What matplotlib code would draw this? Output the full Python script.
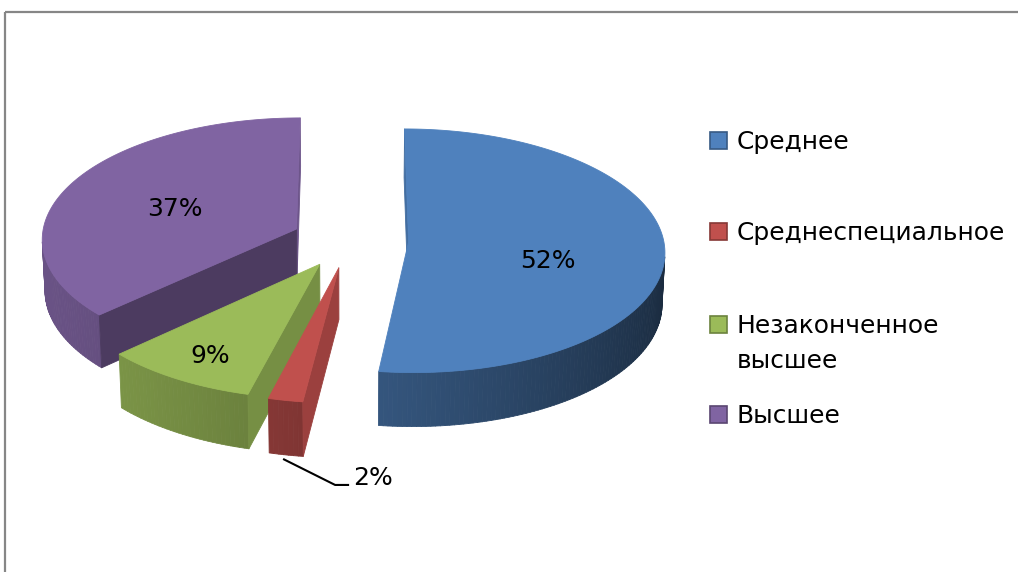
"""
Exploded 3D pie: education level shares (Excel-style recreation).
"""

import numpy as np
import matplotlib.pyplot as plt
from matplotlib.patches import Polygon, Rectangle
import matplotlib.colors as mcolors


# Data
categories = ['Среднее', 'Среднеспециальное', 'Незаконченное\nвысшее', 'Высшее']
shares = [52, 2, 9, 37]
pct_labels = ['52%', '2%', '9%', '37%']

# Style
COLORS = ['#4F81BD', '#C0504D', '#9BBB59', '#8064A2']
# label placement inside each slice: (radius, angle shift in degrees);
# None -> label outside with a leader line
LABEL_POS = [(0.56, -13), None, (0.80, 1), (0.52, 4)]
FONT = 18
LEGEND_FONT = 17.9

# View settings (pixel space, y grows downwards)
CX, CY = 350, 240
SCALE = 255
ELEV = np.radians(28.3)
DIST = 11.9
THICK = 0.23
EXPLODE = 0.23


def project(X, Y, Z):
    """Perspective projection of world points onto the canvas."""
    X, Y, Z = np.broadcast_arrays(np.asarray(X, float), np.asarray(Y, float),
                                  np.asarray(Z, float))
    vv = Y * np.sin(ELEV) + Z * np.cos(ELEV)
    w = Y * np.cos(ELEV) - Z * np.sin(ELEV)
    s = DIST / (DIST + w)
    return np.column_stack([CX + SCALE * X * s, CY - SCALE * vv * s])


def signed_area(pts):
    x, y = pts[:, 0], pts[:, 1]
    return 0.5 * np.sum(x * np.roll(y, -1) - np.roll(x, -1) * y)


def shade(color, f):
    rgb = np.array(mcolors.to_rgb(color)) * f
    return tuple(np.clip(rgb, 0, 1))


def draw_face(ax, pts, color):
    if signed_area(pts) > 0:
        ax.add_patch(Polygon(pts, closed=True, facecolor=color, edgecolor=color,
                             linewidth=0.6, joinstyle='round'))


fig = plt.figure(figsize=(10.18, 5.72), dpi=100)
ax = fig.add_axes([0, 0, 1, 1])
ax.set_xlim(0, 1018)
ax.set_ylim(572, 0)
ax.axis('off')

# chart area border (only top and left visible)
ax.add_patch(Rectangle((5, 12), 1200, 800, fill=False, edgecolor='#868686',
                       linewidth=1.6))

# slice angles: start at 12 o'clock, clockwise
total = float(sum(shares))
cum = np.concatenate([[0], np.cumsum(shares)]) / total * 360.0
slices = []
for i in range(len(shares)):
    t1 = np.radians(90 - cum[i + 1])
    t2 = np.radians(90 - cum[i])
    tm = 0.5 * (t1 + t2)
    ox, oy = EXPLODE * np.cos(tm), EXPLODE * np.sin(tm)
    slices.append((i, t1, t2, tm, ox, oy))

# far slices first
order = sorted(slices, key=lambda s: -s[5])
anchors = {}
for i, t1, t2, tm, ox, oy in order:
    base = COLORS[i]
    n = max(int(np.degrees(t2 - t1)), 2)
    ts = np.linspace(t1, t2, n + 1)
    rx, ry = ox + np.cos(ts), oy + np.sin(ts)

    # outer wall
    for k in range(n):
        tmid = 0.5 * (ts[k] + ts[k + 1])
        f = 0.57 + 0.25 * np.cos(tmid - np.radians(195))
        quad = project([rx[k], rx[k + 1], rx[k + 1], rx[k]],
                       [ry[k], ry[k + 1], ry[k + 1], ry[k]],
                       [0, 0, -THICK, -THICK])
        draw_face(ax, quad, shade(base, f))

    # radial cut faces
    f1 = 0.85 + 0.35 * np.sin(t1 - np.pi / 2)
    face1 = project([ox, rx[0], rx[0], ox], [oy, ry[0], ry[0], oy],
                    [0, 0, -THICK, -THICK])
    draw_face(ax, face1, shade(base, f1))
    f2 = 0.85 + 0.35 * np.sin(t2 + np.pi / 2)
    face2 = project([rx[-1], ox, ox, rx[-1]], [ry[-1], oy, oy, ry[-1]],
                    [0, 0, -THICK, -THICK])
    draw_face(ax, face2, shade(base, f2))

    # top face
    top = project(np.concatenate([[ox], rx]), np.concatenate([[oy], ry]), 0)
    ax.add_patch(Polygon(top, closed=True, facecolor=base, edgecolor=base,
                         linewidth=0.6))

    anchors[i] = (tm, ox, oy)

# percentage labels
for i, lab in enumerate(pct_labels):
    tm, ox, oy = anchors[i]
    if LABEL_POS[i] is not None:
        r, dt = LABEL_POS[i]
        ang = tm + np.radians(dt)
        px, py = project(ox + r * np.cos(ang), oy + r * np.sin(ang), 0)[0]
        ax.text(px, py, lab, ha='center', va='center', fontsize=FONT,
                color='black')
    else:
        px, py = project(ox + np.cos(tm), oy + np.sin(tm), -THICK)[0]
        px, py = px - 3, py + 4
        ax.plot([px, px + 52, px + 66], [py, py + 26, py + 26], color='black',
                linewidth=1.5, solid_capstyle='butt')
        ax.text(px + 70, py + 26, lab, ha='left', va='baseline',
                fontsize=FONT, color='black')

# legend
LEGEND_X = 710
LEGEND_BASE = [149, 240, 333, 423]
LINE_STEP = 35
SQ = 17
for i, (cat, base_y) in enumerate(zip(categories, LEGEND_BASE)):
    ax.add_patch(Rectangle((LEGEND_X, base_y - SQ), SQ, SQ,
                           facecolor=COLORS[i], edgecolor=shade(COLORS[i], 0.7),
                           linewidth=1.2))
    for k, line in enumerate(cat.split('\n')):
        ax.text(LEGEND_X + 27, base_y + k * LINE_STEP, line, ha='left',
                va='baseline', fontsize=LEGEND_FONT, color='black')

fig.savefig('out.png', dpi=100)
